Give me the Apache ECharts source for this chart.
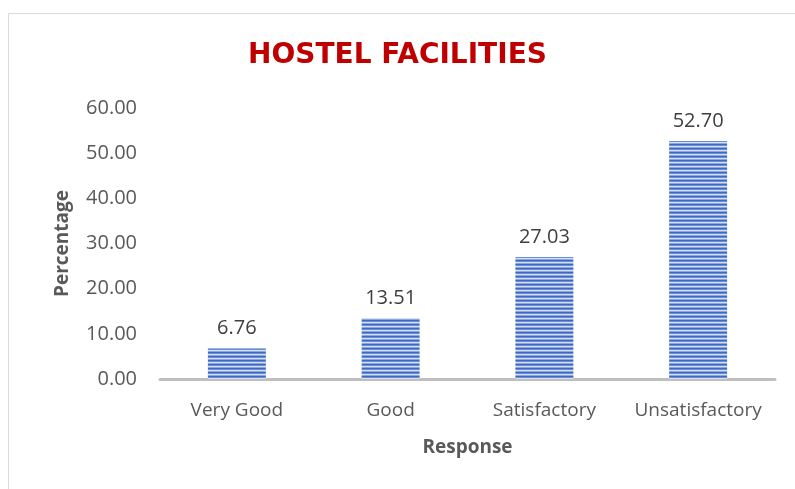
<!DOCTYPE html>
<html>
<head>
<meta charset="utf-8">
<style>
  html, body { margin: 0; padding: 0; background: #ffffff; }
  #chart { width: 795px; height: 489px; }
</style>
<script src="https://cdn.jsdelivr.net/npm/echarts@6/dist/echarts.min.js"></script>
</head>
<body>
<div id="chart"></div>
<script>
// Survey responses on hostel facilities
const categories = ['Very Good', 'Good', 'Satisfactory', 'Unsatisfactory'];
const percentages = [6.76, 13.51, 27.03, 52.70];
const yTicks = { min: 0, max: 60, interval: 10 };

// Horizontal stripe fill for the bars
function stripePattern() {
  const c = document.createElement('canvas');
  c.width = 4; c.height = 4;
  const ctx = c.getContext('2d');
  const rows = ['#3e69c2', '#6a8dd5', '#d6e0f5', '#8ba6de'];
  rows.forEach((col, i) => { ctx.fillStyle = col; ctx.fillRect(0, i, 4, 1); });
  return c;
}

const chart = echarts.init(document.getElementById('chart'), null, { renderer: 'canvas' });
const font = '"Open Sans", "Liberation Sans", sans-serif';

chart.setOption({
  animation: false,
  backgroundColor: '#ffffff',
  graphic: [{
    type: 'rect',
    shape: { x: 8.5, y: 13.5, width: 800, height: 490 },
    style: { fill: 'none', stroke: '#d9d9d9', lineWidth: 1 },
    silent: true
  }],
  title: {
    text: 'HOSTEL FACILITIES',
    left: 'center',
    top: 37,
    textStyle: { fontFamily: '"DejaVu Sans", sans-serif', fontSize: 28, fontWeight: 'bold', color: '#c00000' }
  },
  grid: { left: 160, right: 20, top: 108, bottom: 110, containLabel: false },
  xAxis: {
    type: 'category',
    data: categories,
    name: 'Response',
    nameLocation: 'middle',
    nameGap: 59,
    nameTextStyle: { fontFamily: font, fontSize: 19, fontWeight: 'bold', color: '#595959' },
    axisLine: { lineStyle: { color: '#bfbfbf', width: 3 } },
    axisTick: { show: false },
    axisLabel: { fontFamily: font, fontSize: 19, color: '#595959', margin: 22, interval: 0 }
  },
  yAxis: {
    type: 'value',
    min: yTicks.min, max: yTicks.max, interval: yTicks.interval,
    name: 'Percentage',
    nameLocation: 'middle',
    nameGap: 88,
    nameTextStyle: { fontFamily: font, fontSize: 19, fontWeight: 'bold', color: '#595959' },
    axisLine: { show: false },
    axisTick: { show: false },
    splitLine: { show: false },
    axisLabel: {
      fontFamily: font, fontSize: 20, color: '#595959', margin: 23,
      formatter: v => v.toFixed(2)
    }
  },
  series: [{
    type: 'bar',
    data: percentages,
    barWidth: '37.7%',
    itemStyle: { color: { image: stripePattern(), repeat: 'repeat' } },
    label: {
      show: true,
      position: 'top',
      distance: 10,
      fontFamily: font, fontSize: 20, color: '#404040',
      formatter: p => p.value.toFixed(2)
    }
  }]
});
</script>
</body>
</html>
